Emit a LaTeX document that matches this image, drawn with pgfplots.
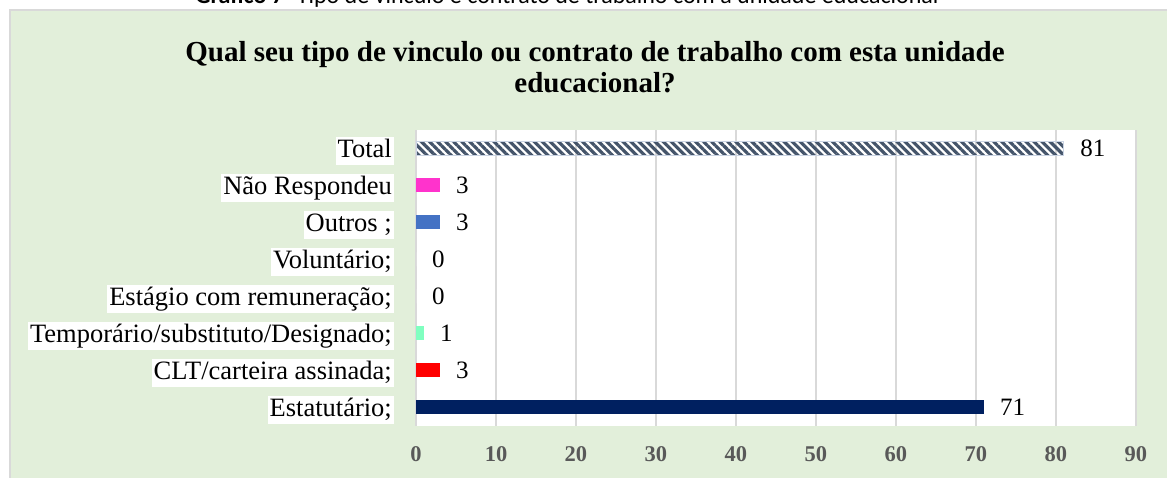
\documentclass[border=0pt]{standalone}
\usepackage{fontspec}
\setmainfont{Liberation Serif}
\newfontfamily\calibri{Carlito}
\usepackage{pgfplots}
\pgfplotsset{compat=1.18}
\usetikzlibrary{patterns.meta}
\definecolor{bgGreen}{HTML}{E2EFDA}
\definecolor{borderGray}{HTML}{D9D9D9}
\definecolor{gridGray}{HTML}{D9D9D9}
\definecolor{tickGray}{HTML}{595959}
\definecolor{cNavy}{HTML}{002060}
\definecolor{cRed}{HTML}{FF0000}
\definecolor{cMint}{HTML}{80FFC0}
\definecolor{cBlue}{HTML}{4472C4}
\definecolor{cPink}{HTML}{FF33CC}
\definecolor{cHatch}{HTML}{44546A}
\definecolor{cHatchBorder}{HTML}{C9D3E3}
\begin{document}
\begin{tikzpicture}[x=1pt,y=1pt]
\useasboundingbox (0,0) rectangle (1167,478);
\fill[bgGreen] (10,-5) rectangle (1172,468);
\draw[line width=1.5pt, borderGray] (10,-5) -- (10,468) -- (1172,468);
\node[anchor=base, inner sep=0pt, font=\calibri\fontsize{24}{28}\selectfont] at (567,474.5) {\textbf{Gráfico 7} -Tipo de vínculo e contrato de trabalho com a unidade educacional};
\node[anchor=base, inner sep=0pt, font=\bfseries\fontsize{29}{34}\selectfont] at (595,416) {Qual seu tipo de vinculo ou contrato de trabalho com esta unidade};
\node[anchor=base, inner sep=0pt, font=\bfseries\fontsize{29}{34}\selectfont] at (595,385) {educacional?};
\begin{axis}[
  at={(416pt,52pt)}, anchor=south west,
  scale only axis, width=720pt, height=296pt,
  xmin=0, xmax=90, ymin=-0.5, ymax=7.5,
  xtick={0,10,...,90}, ytick={0,...,7},
  yticklabels={Estatutário;, CLT/carteira assinada;, Temporário/substituto/Designado;, Estágio com remuneração;, Voluntário;, Outros ;, Não Respondeu\ , Total},
  axis line style={draw=none},
  major tick length=0pt,
  xmajorgrids, ymajorgrids=false,
  grid style={gridGray, line width=1.5pt},
  axis background/.style={fill=white},
  /pgf/number format/assume math mode=true,
  xticklabel style={font=\bfseries\fontsize{22.5}{26}\selectfont, text=tickGray, inner sep=0pt},
  xticklabel shift=20pt,
  yticklabel style={font=\fontsize{26.5}{30}\selectfont, fill=white, inner xsep=2pt, inner ysep=2pt, text height=18.5pt, text depth=6pt, yshift=-2.5pt},
  yticklabel shift=22pt,
  xbar, bar width=14pt, bar shift=0pt,
  point meta=x,
  nodes near coords,
  nodes near coords style={anchor=west, inner sep=0pt, xshift=16pt, font=\fontsize{25}{30}\selectfont, text=black},
  clip=false,
]
\addplot[fill=cNavy, draw=none] coordinates {(71,0)};
\addplot[fill=cRed, draw=none] coordinates {(3,1)};
\addplot[fill=cMint, draw=none] coordinates {(1,2)};
\addplot[fill=white, draw=none] coordinates {(0,3)};
\addplot[fill=white, draw=none] coordinates {(0,4)};
\addplot[fill=cBlue, draw=none] coordinates {(3,5)};
\addplot[fill=cPink, draw=none] coordinates {(3,6)};
\addplot[pattern={Lines[angle=-45, distance=5.7pt, line width=3.2pt]}, pattern color=cHatch, draw=cHatchBorder, line width=1pt] coordinates {(81,7)};
\end{axis}
\end{tikzpicture}
\end{document}
